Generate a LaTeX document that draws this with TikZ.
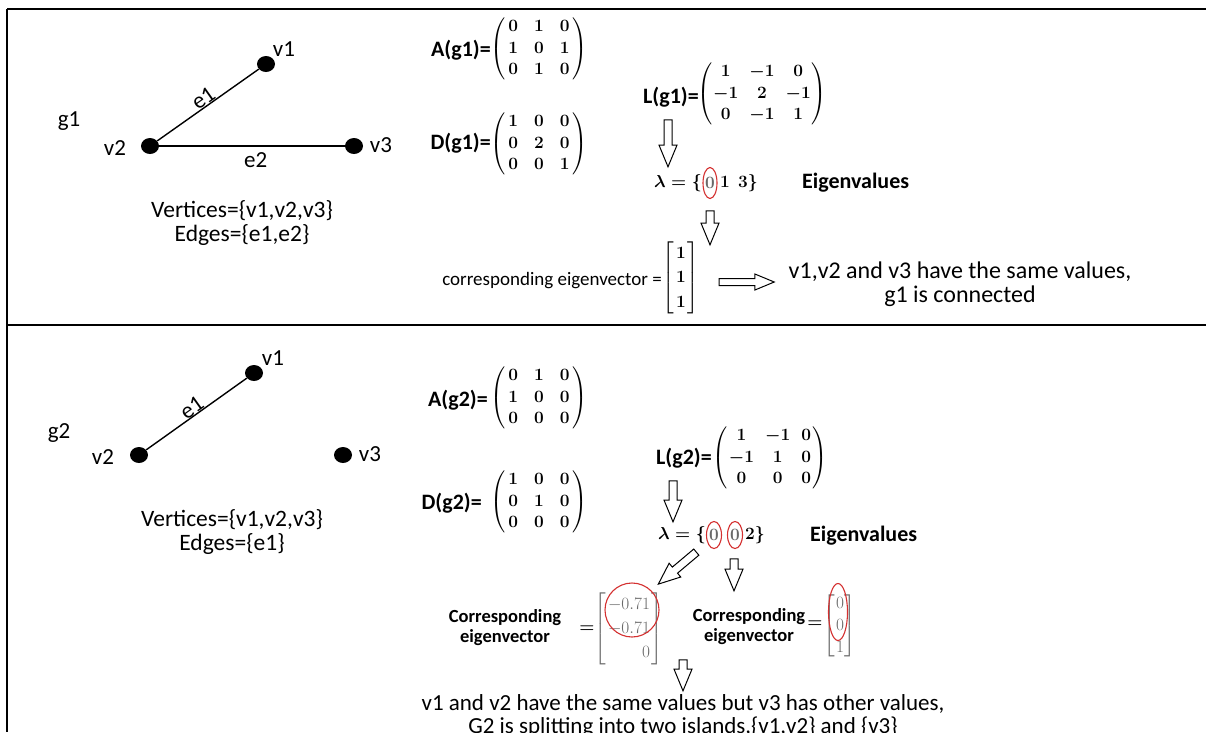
\documentclass[tikz,border=0pt]{standalone}
\usepackage[no-math]{fontspec}
\setmainfont{Carlito}
\usepackage{amsmath}
\usetikzlibrary{calc,shapes.arrows,shapes.geometric}
\definecolor{mcgray}{RGB}{105,105,105}
\definecolor{ovalred}{RGB}{212,48,48}
\setlength\arraycolsep{8pt}
\newcommand\hollowarrow[4][]{%
  \path let \p1=(#3), \p2=(#4),
    \n1={atan2(\y2-\y1,\x2-\x1)}, \n2={veclen(\x2-\x1,\y2-\y1)} in
    node[harrow, #1, rotate=\n1, minimum height=\n2] (#2) at ($(#3)!0.5!(#4)$) {};}
\begin{document}
\begin{tikzpicture}[x=1pt,y=-1pt,
  lbl/.style={font=\fontsize{23}{24}\selectfont, inner sep=0pt},
  blbl/.style={font=\fontsize{22}{24}\selectfont\bfseries, inner sep=0pt},
  smalltxt/.style={font=\fontsize{19}{20}\selectfont, inner sep=0pt, align=center},
  matx/.style={font=\fontsize{19}{21.5}\selectfont\boldmath, inner sep=0pt},
  mcad/.style={font=\fontsize{18}{24}\selectfont\boldmath, inner sep=0pt},
  vertex/.style={ellipse, fill=black, minimum width=18pt, minimum height=16pt, inner sep=0pt},
  gedge/.style={line width=1.4pt},
  framel/.style={line width=2.2pt},
  oval/.style={ellipse, draw=ovalred, line width=1.1pt, inner sep=0pt},
  harrow/.style={single arrow, draw=black, fill=white, line width=1pt,
    inner xsep=0pt, inner ysep=3.5pt, single arrow head extend=5pt,
    single arrow tip angle=45, single arrow head indent=0pt, anchor=center}
]
\useasboundingbox (0,0) rectangle (1206,732);
\fill[white] (0,0) rectangle (1206,732);
% frame
\draw[framel] (7,9) -- (1206,9);
\draw[framel] (7,9) -- (7,732);
\draw[line width=2.8pt] (7,325) -- (1206,325);

% ---------------- g1 ----------------
\node[lbl] (g1name) at (69,121) {g1};
\node[vertex] (g1v1) at (266,64) {};
\node[vertex] (g1v2) at (150,146) {};
\node[vertex] (g1v3) at (354,146) {};
\node[lbl] (g1l1) at (284,49) {v1};
\node[lbl] (g1l2) at (115,148) {v2};
\node[lbl] (g1l3) at (381,145) {v3};
\draw[gedge] (g1v2) -- node[lbl, sloped, above=0pt] (g1e1) {e1} (g1v1);
\draw[gedge] (g1v2) -- node[lbl, below=6pt, pos=0.52] (g1e2) {e2} (g1v3);
\node[lbl, align=center, font=\fontsize{23.5}{24}\selectfont] (g1set) at (242,223) {Vertices=\{v1,v2,v3\}\\Edges=\{e1,e2\}};

\node[blbl, anchor=east] (g1Alab) at (491,50) {A(g1)=};
\node[matx] (g1A) at (539,49) {$\left(\begin{array}{@{\hspace{3pt}}ccc@{\hspace{3pt}}}0&1&0\\1&0&1\\0&1&0\end{array}\right)$};
\node[blbl, anchor=east] (g1Dlab) at (491,143) {D(g1)=};
\node[matx] (g1D) at (539,144) {$\left(\begin{array}{@{\hspace{3pt}}ccc@{\hspace{3pt}}}1&0&0\\0&2&0\\0&0&1\end{array}\right)$};
\node[blbl, anchor=east] (g1Llab) at (699,97) {L(g1)=};
\node[matx] (g1L) at (762,94) {\setlength\arraycolsep{5.5pt}$\left(\begin{array}{@{\hspace{1pt}}ccc@{\hspace{1pt}}}1&-1&0\\-1&2&-1\\0&-1&1\end{array}\right)$};

\node[mcad, anchor=east] (g1lam) at (702,183) {$\lambda=\{$};
\node[mcad, text=mcgray] (g1zero) at (710,183) {$0$};
\node[oval, minimum width=14pt, minimum height=31pt] (g1oval) at (g1zero) {};
\node[mcad, anchor=west] (g1rest) at (720,183) {$1\ \ 3\}$};
\node[blbl, anchor=west] (g1eig) at (802,183) {Eigenvalues};

\node[smalltxt, anchor=east] (g1cev) at (662,281) {corresponding eigenvector =};
\node[mcad, font=\fontsize{18}{24.5}\selectfont\boldmath] (g1vec) at (681,278) {$\left[\begin{array}{@{\hspace{2pt}}c@{\hspace{2pt}}}1\\1\\1\end{array}\right]$};
\node[lbl, align=center, font=\fontsize{24}{24}\selectfont] (g1concl) at (960,284) {v1,v2 and v3 have the same values,\\g1 is connected};

\coordinate (a1s) at (668,115); \coordinate (a1e) at (668,162);
\coordinate (a2s) at (710,206); \coordinate (a2e) at (710,240);
\coordinate (a3s) at (715,282); \coordinate (a3e) at (770,282);
\hollowarrow{arrA}{a1s}{a1e}
\hollowarrow{arrB}{a2s}{a2e}
\hollowarrow[inner ysep=3pt, single arrow head extend=4.5pt]{arrC}{a3s}{a3e}

% ---------------- g2 ----------------
\node[lbl] (g2name) at (59,433) {g2};
\node[vertex] (g2v1) at (254,373) {};
\node[vertex] (g2v2) at (139,455) {};
\node[vertex] (g2v3) at (343,455) {};
\node[lbl] (g2l1) at (273,358) {v1};
\node[lbl] (g2l2) at (103,457) {v2};
\node[lbl] (g2l3) at (370,454) {v3};
\draw[gedge] (g2v2) -- node[lbl, sloped, above=0pt] (g2e1) {e1} (g2v1);
\node[lbl, align=center, font=\fontsize{23.5}{24}\selectfont] (g2set) at (232,532) {Vertices=\{v1,v2,v3\}\\Edges=\{e1\}};

\node[blbl, anchor=east] (g2Alab) at (488,400) {A(g2)=};
\node[matx] (g2A) at (539,398) {$\left(\begin{array}{@{\hspace{3pt}}ccc@{\hspace{3pt}}}0&1&0\\1&0&0\\0&0&0\end{array}\right)$};
\node[blbl, anchor=east] (g2Dlab) at (482,503) {D(g2)=};
\node[matx] (g2D) at (539,502) {$\left(\begin{array}{@{\hspace{3pt}}ccc@{\hspace{3pt}}}1&0&0\\0&1&0\\0&0&0\end{array}\right)$};
\node[blbl, anchor=east] (g2Llab) at (712,458) {L(g2)=};
\node[matx] (g2L) at (770,458) {\setlength\arraycolsep{5.5pt}$\left(\begin{array}{@{\hspace{1pt}}ccc@{\hspace{1pt}}}1&-1&0\\-1&1&0\\0&0&0\end{array}\right)$};

\node[mcad, anchor=east] (g2lam) at (706,535) {$\lambda=\{$};
\node[mcad, text=mcgray] (g2zeroa) at (714,535) {$0$};
\node[mcad, text=mcgray] (g2zerob) at (735,535) {$0$};
\node[oval, minimum width=15pt, minimum height=27pt] (g2ovala) at (g2zeroa) {};
\node[oval, minimum width=15pt, minimum height=27pt] (g2ovalb) at (g2zerob) {};
\node[mcad, anchor=west] (g2rest) at (745,535) {$2\}$};
\node[blbl, anchor=west] (g2eig) at (810,536) {Eigenvalues};

\node[smalltxt, font=\fontsize{18.5}{20}\selectfont\bfseries] (g2cev1) at (505,628) {Corresponding\\eigenvector};
\node[mcad] (g2eq1) at (587,629) {$=$};
\node[mcad, text=mcgray, font=\fontsize{17}{24}\selectfont] (g2vec1) at (629,629) {$\left[\begin{array}{@{\hspace{2pt}}r@{\hspace{2pt}}}-0.71\\-0.71\\0\end{array}\right]$};
\node[circle, draw=ovalred, line width=1.1pt, minimum size=54pt, inner sep=0pt] (g2circ) at (632,610) {};
\node[smalltxt, font=\fontsize{18.5}{20}\selectfont\bfseries] (g2cev2) at (749,627) {Corresponding\\eigenvector};
\node[mcad] (g2eq2) at (815,624) {$=$};
\node[mcad, text=mcgray, font=\fontsize{17}{22}\selectfont] (g2vec2) at (840,626) {$\left[\begin{array}{@{\hspace{1pt}}c@{\hspace{1pt}}}0\\0\\1\end{array}\right]$};
\node[oval, minimum width=19pt, minimum height=57pt] (g2ovalc) at (838,612) {};
\node[lbl, align=center, font=\fontsize{23}{23}\selectfont] (g2concl) at (683,716) {v1 and v2 have the same values but v3 has other values,\\G2 is splitting into two islands,\{v1,v2\} and \{v3\}};

\coordinate (b1s) at (673,476); \coordinate (b1e) at (673,517);
\coordinate (b2s) at (700,549); \coordinate (b2e) at (662,581);
\coordinate (b3s) at (734,554); \coordinate (b3e) at (734,586);
\coordinate (b4s) at (683,655); \coordinate (b4e) at (683,686);
\hollowarrow{arrD}{b1s}{b1e}
\hollowarrow{arrE}{b2s}{b2e}
\hollowarrow{arrF}{b3s}{b3e}
\hollowarrow{arrG}{b4s}{b4e}
\end{tikzpicture}
\end{document}
